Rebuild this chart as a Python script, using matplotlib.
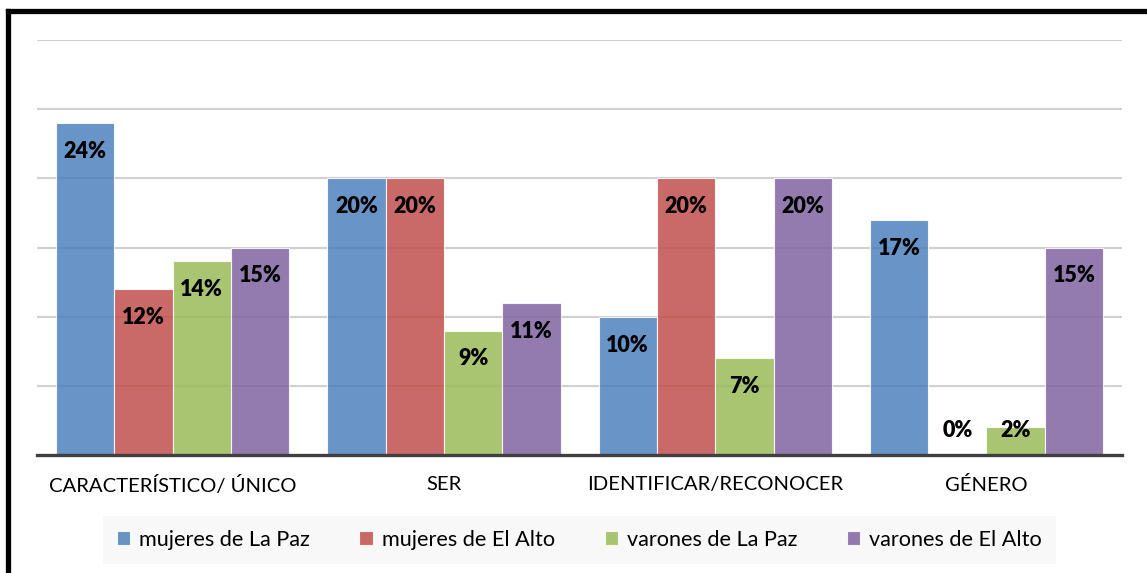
import numpy as np
import matplotlib.pyplot as plt
from matplotlib.lines import Line2D

plt.rcParams['font.family'] = ['Lato', 'DejaVu Sans']

categories = ['CARACTERÍSTICO/ ÚNICO', 'SER', 'IDENTIFICAR/RECONOCER', 'GÉNERO']
series_names = ['mujeres de La Paz', 'mujeres de El Alto', 'varones de La Paz', 'varones de El Alto']
mujeres_lp = [24, 20, 10, 17]
mujeres_ea = [12, 20, 20, 0]
varones_lp = [14, 9, 7, 2]
varones_ea = [15, 11, 20, 15]
colors = ['#4F81BD', '#C0504D', '#9BBB59', '#8064A2']

fig = plt.figure(figsize=(11.47, 5.73), dpi=100)
ax = fig.add_axes([0.0323, 0.206, 0.946, 0.724])

x = np.arange(len(categories))
width = 0.215
data = [mujeres_lp, mujeres_ea, varones_lp, varones_ea]

for i, (vals, c, name) in enumerate(zip(data, colors, series_names)):
    pos = x + (i - 1.5) * width
    ax.bar(pos, vals, width, color=c, alpha=0.85, edgecolor='#ffffff', linewidth=0.8,
           label=name, zorder=3)
    for xp, v in zip(pos, vals):
        # label sits inside the top of the bar, but never below the baseline area
        ly = max(v - 2.05, 1.8)
        ax.text(xp, ly, f'{v}%', ha='center', va='center', fontsize=15.5,
                fontweight='heavy', color='black', zorder=5)

ax.set_xlim(-0.5, len(categories) - 0.5)
ax.set_ylim(0, 30)
ax.set_yticks([5, 10, 15, 20, 25, 30])
ax.yaxis.grid(True, color='#d0d0d0', linewidth=1.5, zorder=1)
ax.set_axisbelow(True)
ax.tick_params(axis='y', left=False, labelleft=False)
ax.tick_params(axis='x', bottom=False, labelsize=14.6, pad=12)
ax.set_xticks(x)
ax.set_xticklabels(categories)
for s in ['top', 'right', 'left']:
    ax.spines[s].set_visible(False)
ax.spines['bottom'].set_color('#404040')
ax.spines['bottom'].set_linewidth(2.4)
ax.spines['bottom'].set_zorder(6)

leg = fig.legend(loc='center', ncol=4, fontsize=15.6,
                 handlelength=0.62, handleheight=0.62, handletextpad=0.4, columnspacing=2.3,
                 frameon=True, fancybox=False, borderpad=0.65, borderaxespad=0)
leg.set_bbox_to_anchor((0.505, 0.058), transform=fig.transFigure)
leg.get_frame().set_facecolor('#f7f7f7')
leg.get_frame().set_edgecolor('none')
for h in leg.legend_handles:
    h.set_alpha(0.85)

# black frame on the left and top of the figure
fig.add_artist(Line2D([0.0066, 0.0066], [0.0, 0.981], transform=fig.transFigure,
                      color='black', linewidth=3.8, solid_capstyle='projecting'))
fig.add_artist(Line2D([0.0066, 1.0], [0.981, 0.981], transform=fig.transFigure,
                      color='black', linewidth=3.8, solid_capstyle='projecting'))

fig.savefig('out.png', dpi=100)
